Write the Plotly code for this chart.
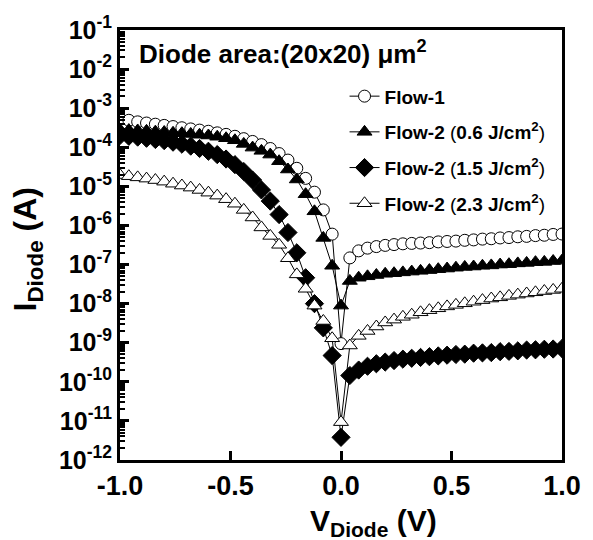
import plotly.graph_objects as go

# Diode voltage (V)
V = [-1.00, -0.96, -0.92, -0.88, -0.84, -0.80, -0.76, -0.72, -0.68, -0.64,
     -0.60, -0.56, -0.52, -0.48, -0.44, -0.40, -0.36, -0.32, -0.28, -0.24,
     -0.20, -0.16, -0.12, -0.08, -0.04, 0.00,
     0.04, 0.08, 0.12, 0.16, 0.20, 0.24, 0.28, 0.32, 0.36, 0.40,
     0.44, 0.48, 0.52, 0.56, 0.60, 0.64, 0.68, 0.72, 0.76, 0.80,
     0.84, 0.88, 0.92, 0.96, 1.00]

# Diode current (A)
flow1 = [5.37e-4, 4.90e-4, 4.47e-4, 4.17e-4, 3.89e-4, 3.63e-4, 3.39e-4, 3.16e-4, 2.95e-4, 2.75e-4,
         2.57e-4, 2.34e-4, 2.14e-4, 1.91e-4, 1.66e-4, 1.41e-4, 1.17e-4, 9.3e-5, 6.9e-5, 4.7e-5,
         2.9e-5, 1.6e-5, 7.1e-6, 2.5e-6, 6.0e-7, 9.5e-10,
         1.48e-7, 2.24e-7, 2.63e-7, 2.88e-7, 3.09e-7, 3.24e-7, 3.39e-7, 3.47e-7, 3.55e-7, 3.63e-7,
         3.80e-7, 3.89e-7, 3.98e-7, 4.17e-7, 4.27e-7, 4.47e-7, 4.57e-7, 4.79e-7, 4.90e-7, 5.13e-7,
         5.25e-7, 5.50e-7, 5.62e-7, 5.89e-7, 6.03e-7]

flow2_06 = [2.82e-4, 2.75e-4, 2.69e-4, 2.63e-4, 2.51e-4, 2.45e-4, 2.34e-4, 2.29e-4, 2.19e-4, 2.09e-4,
            2.00e-4, 1.86e-4, 1.70e-4, 1.51e-4, 1.22e-4, 9.8e-5, 8.1e-5, 6.5e-5, 4.4e-5, 2.7e-5,
            1.5e-5, 6.3e-6, 2.3e-6, 4.8e-7, 9.3e-8, 8.9e-9,
            3.8e-8, 4.6e-8, 5.0e-8, 5.4e-8, 5.8e-8, 6.0e-8, 6.3e-8, 6.6e-8, 6.9e-8, 7.2e-8,
            7.6e-8, 7.9e-8, 8.3e-8, 8.7e-8, 8.9e-8, 9.3e-8, 9.5e-8, 1.00e-7, 1.02e-7, 1.07e-7,
            1.10e-7, 1.15e-7, 1.17e-7, 1.23e-7, 1.26e-7]

flow2_15 = [2.00e-4, 1.91e-4, 1.82e-4, 1.70e-4, 1.58e-4, 1.48e-4, 1.35e-4, 1.20e-4, 1.07e-4, 9.3e-5,
            7.9e-5, 6.5e-5, 5.0e-5, 3.6e-5, 2.4e-5, 1.45e-5, 8.1e-6, 4.2e-6, 1.9e-6, 6.6e-7,
            2.0e-7, 4.6e-8, 1.0e-8, 2.4e-9, 4.7e-10, 3.8e-12,
            1.45e-10, 2.0e-10, 2.5e-10, 2.9e-10, 3.2e-10, 3.5e-10, 3.8e-10, 4.0e-10, 4.2e-10, 4.4e-10,
            4.6e-10, 4.8e-10, 5.0e-10, 5.1e-10, 5.4e-10, 5.5e-10, 5.6e-10, 5.9e-10, 6.0e-10, 6.2e-10,
            6.5e-10, 6.6e-10, 6.8e-10, 6.9e-10, 7.1e-10]

flow2_23 = [1.95e-5, 1.82e-5, 1.70e-5, 1.58e-5, 1.45e-5, 1.32e-5, 1.17e-5, 1.05e-5, 9.3e-6, 8.1e-6,
            6.9e-6, 5.8e-6, 4.7e-6, 3.6e-6, 2.5e-6, 1.6e-6, 8.9e-7, 5.4e-7, 3.2e-7, 1.45e-7,
            5.6e-8, 2.4e-8, 8.9e-9, 3.6e-9, 1.3e-9, 9.3e-12,
            8.5e-10, 1.5e-9, 2.0e-9, 2.6e-9, 3.3e-9, 3.9e-9, 4.6e-9, 5.2e-9, 6.0e-9, 6.8e-9,
            7.6e-9, 8.5e-9, 9.3e-9, 1.02e-8, 1.12e-8, 1.23e-8, 1.35e-8, 1.45e-8, 1.58e-8, 1.70e-8,
            1.82e-8, 1.95e-8, 2.1e-8, 2.24e-8, 2.4e-8]

names = ["<b>Flow-1</b>",
         "<b>Flow-2</b> (<b>0.6 J/cm<sup>2</sup></b>)",
         "<b>Flow-2</b> (<b>1.5 J/cm<sup>2</sup></b>)",
         "<b>Flow-2</b> (<b>2.3 J/cm<sup>2</sup></b>)"]
series = [flow1, flow2_06, flow2_15, flow2_23]
symbols = ["circle", "triangle-up", "diamond", "triangle-up"]
fills = ["white", "black", "black", "white"]
sizes = [12, 13, 14, 13]

x_ticks = [-1.0, -0.5, 0.0, 0.5, 1.0]
x_ticklabels = ["-1.0", "-0.5", "0.0", "0.5", "1.0"]
y_exponents = list(range(-12, 0))

FONT = "Liberation Sans, Arial, sans-serif"

fig = go.Figure()
for i, (nm, ys) in enumerate(zip(names, series)):
    fig.add_trace(go.Scatter(
        x=V, y=ys, name=nm, mode="lines+markers", legendgroup=str(i),
        line=dict(color="black", width=1),
        marker=dict(symbol=symbols[i], size=sizes[i], color=fills[i],
                    line=dict(color="black", width=1)),
    ))

minor_vals = [k * 10.0 ** e for e in range(-12, -1) for k in range(2, 10)]

fig.update_xaxes(
    range=[-1, 1], tickmode="array", tickvals=x_ticks, ticktext=x_ticklabels,
    ticks="inside", ticklen=9, tickwidth=2.5, tickcolor="black",
    showline=True, linewidth=3, linecolor="black", mirror=True,
    showgrid=False, zeroline=False,
    tickfont=dict(family=FONT, size=27, color="black", weight="bold"),
)
fig.update_yaxes(
    type="log", range=[-12, -1], tickmode="array",
    tickvals=[10.0 ** e for e in y_exponents],
    ticktext=["10<sup>%d</sup>" % e for e in y_exponents],
    ticks="inside", ticklen=9, tickwidth=2.5, tickcolor="black",
    minor=dict(tickmode="array", tickvals=minor_vals, ticks="inside",
               ticklen=5, tickwidth=1.5, tickcolor="black", showgrid=False),
    showline=True, linewidth=3, linecolor="black", mirror=True,
    showgrid=False, zeroline=False,
    tickfont=dict(family=FONT, size=25, color="black", weight="bold"),
)

fig.update_layout(
    width=593, height=540,
    margin=dict(l=120, r=23, t=28, b=80),
    paper_bgcolor="white", plot_bgcolor="white",
    font=dict(family=FONT, color="black"),
    showlegend=True,
    legend=dict(x=0.508, y=0.89, xanchor="left", yanchor="top",
                bgcolor="rgba(0,0,0,0)", tracegroupgap=8,
                font=dict(family=FONT, size=19, color="black")),
    annotations=[
        dict(text="<b>Diode area:(20x20) μm<sup>2</sup></b>", xref="paper", yref="paper",
             x=0.038, y=0.947, xanchor="left", yanchor="middle", showarrow=False,
             font=dict(family=FONT, size=26, color="black")),
        dict(text="<b>V<sub>Diode</sub> (V)</b>", xref="paper", yref="paper",
             x=0.573, y=-0.145, xanchor="center", yanchor="middle", showarrow=False,
             font=dict(family=FONT, size=30, color="black")),
        dict(text="<b>I<sub>Diode</sub> (A)</b>", xref="paper", yref="paper",
             x=-0.21, y=0.49, xanchor="center", yanchor="middle", showarrow=False,
             textangle=-90, font=dict(family=FONT, size=32, color="black")),
    ],
)

fig.write_html("out.html")
